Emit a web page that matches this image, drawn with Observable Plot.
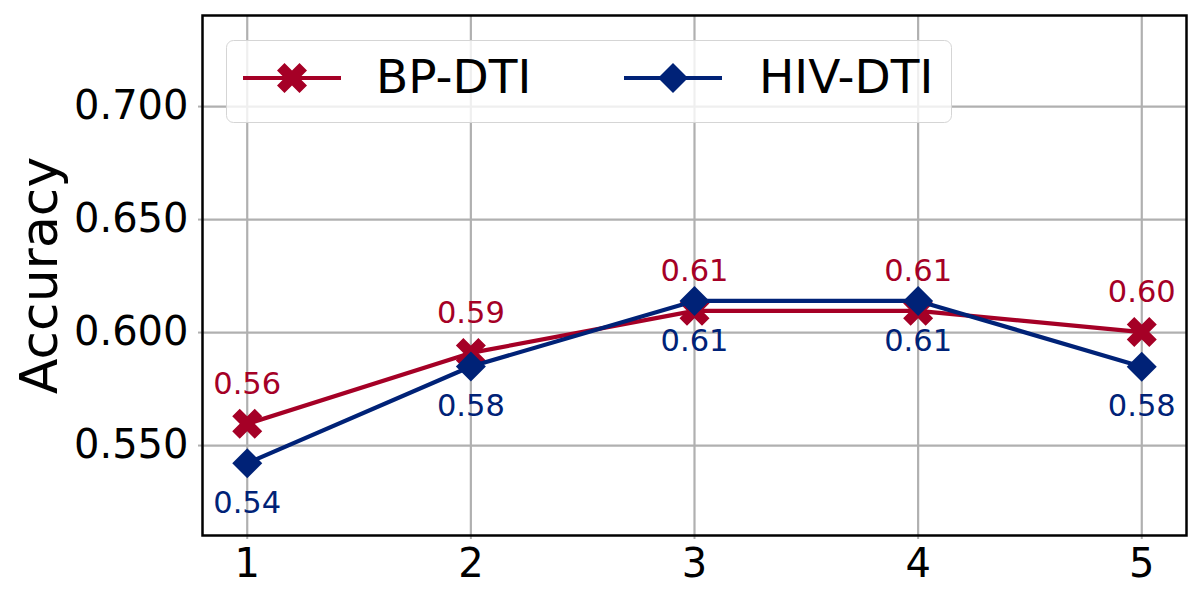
<!DOCTYPE html>
<html><head><meta charset="utf-8">
<script src="https://cdn.jsdelivr.net/npm/d3@7"></script>
<script src="https://cdn.jsdelivr.net/npm/@observablehq/plot@0.6"></script>
<style>
body{margin:0;background:#fff;font-family:"DejaVu Sans",sans-serif;}
#wrap{position:relative;width:1200px;height:600px;}
#legend{position:absolute;left:226px;top:40px;}
</style>
</head><body>
<div id="wrap"></div>
<script>
const xs = [1, 2, 3, 4, 5];
const bpDti = [0.5596, 0.591, 0.6096, 0.6096, 0.6002];
const hivDti = [0.5422, 0.585, 0.6140, 0.6140, 0.5849];
const seriesNames = ["BP-DTI", "HIV-DTI"];
const seriesColors = ["#a50026", "#002277"];
const yTicks = [0.55, 0.6, 0.65, 0.7];
const yLabel = "Accuracy";

// filled "X" (matplotlib style) and diamond symbols
const plusPts = [[-1,-3],[1,-3],[1,-1],[3,-1],[3,1],[1,1],[1,3],[-1,3],[-1,1],[-3,1],[-3,-1],[-1,-1]];
const symX = {draw(ctx, size) {
  const r = Math.sqrt(size / Math.PI);
  const k = r / (4 / Math.SQRT2);
  plusPts.forEach(([a, b], i) => {
    const x = (a - b) / Math.SQRT2 * k, y = (a + b) / Math.SQRT2 * k;
    i ? ctx.lineTo(x, y) : ctx.moveTo(x, y);
  });
  ctx.closePath();
}};
const symD = {draw(ctx, size) {
  const r = Math.sqrt(size / Math.PI);
  ctx.moveTo(0, -r); ctx.lineTo(r, 0); ctx.lineTo(0, r); ctx.lineTo(-r, 0); ctx.closePath();
}};
const symbols = [symX, symD];
const labelDy = [-40, 40];

const series = [bpDti, hivDti].map((vals, s) => xs.map((x, i) => ({x, y: vals[i], name: seriesNames[s]})));

const seriesMarks = series.flatMap((rows, s) => [
  Plot.line(rows, {x: "x", y: "y", stroke: seriesColors[s], strokeWidth: 4.2}),
  Plot.dot(rows, {x: "x", y: "y", symbol: symbols[s], r: 15, fill: seriesColors[s], stroke: "none"}),
  Plot.text(rows, {x: "x", y: "y", text: d => d3.format(".2f")(d.y), dy: labelDy[s], fill: seriesColors[s], fontSize: 30.5})
]);

const chart = Plot.plot({
  width: 1200, height: 600,
  marginLeft: 202, marginRight: 14, marginTop: 15, marginBottom: 65,
  style: {fontFamily: "DejaVu Sans", background: "white", color: "black"},
  x: {domain: [0.8, 5.2]},
  y: {domain: [0.5102, 0.7403]},
  marks: [
    Plot.gridX(xs, {stroke: "#b0b0b0", strokeOpacity: 1, strokeWidth: 2.2}),
    Plot.gridY(yTicks, {stroke: "#b0b0b0", strokeOpacity: 1, strokeWidth: 2.2}),
    Plot.axisX(xs, {tickSize: 4, stroke: "#b0b0b0", strokeWidth: 2, fill: "black", fontSize: 40, tickPadding: 9, tickFormat: d => String(d), label: null}),
    Plot.axisY(yTicks, {tickSize: 4, stroke: "#b0b0b0", strokeWidth: 2, fill: "black", fontSize: 40, tickPadding: 10, tickFormat: d3.format(".3f"), label: null}),
    Plot.frame({stroke: "black", strokeWidth: 2.5}),
    ...seriesMarks,
    Plot.text([yLabel], {frameAnchor: "left", textAnchor: "middle", dx: -162, rotate: -90, fontSize: 52, fill: "black"})
  ]
});
const wrap = document.getElementById("wrap");
wrap.appendChild(chart);

// legend overlay
const ns = "http://www.w3.org/2000/svg";
const leg = document.createElementNS(ns, "svg");
leg.setAttribute("id", "legend");
leg.setAttribute("width", 727); leg.setAttribute("height", 84);
const el = (tag, attrs, parent) => { const e = document.createElementNS(ns, tag); for (const k in attrs) e.setAttribute(k, attrs[k]); parent.appendChild(e); return e; };
el("rect", {x: 0.5, y: 0.5, width: 725, height: 82, rx: 7, fill: "rgba(255,255,255,0.8)", stroke: "#d5d5d5", "stroke-width": 1}, leg);
const itemX = [17, 398];
const textX = [150, 533];
seriesNames.forEach((name, s) => {
  const x0 = itemX[s];
  el("line", {x1: x0, x2: x0 + 98, y1: 38, y2: 38, stroke: seriesColors[s], "stroke-width": 4.2}, leg);
  const p = d3.path();
  symbols[s].draw(p, 15 * 15 * Math.PI);
  el("path", {d: p.toString(), fill: seriesColors[s], transform: `translate(${x0 + 49},38)`}, leg);
  const t = el("text", {x: textX[s], y: 53, "font-size": 47, "font-family": "DejaVu Sans", fill: "black"}, leg);
  t.textContent = name;
});
wrap.appendChild(leg);
</script>
</body></html>
